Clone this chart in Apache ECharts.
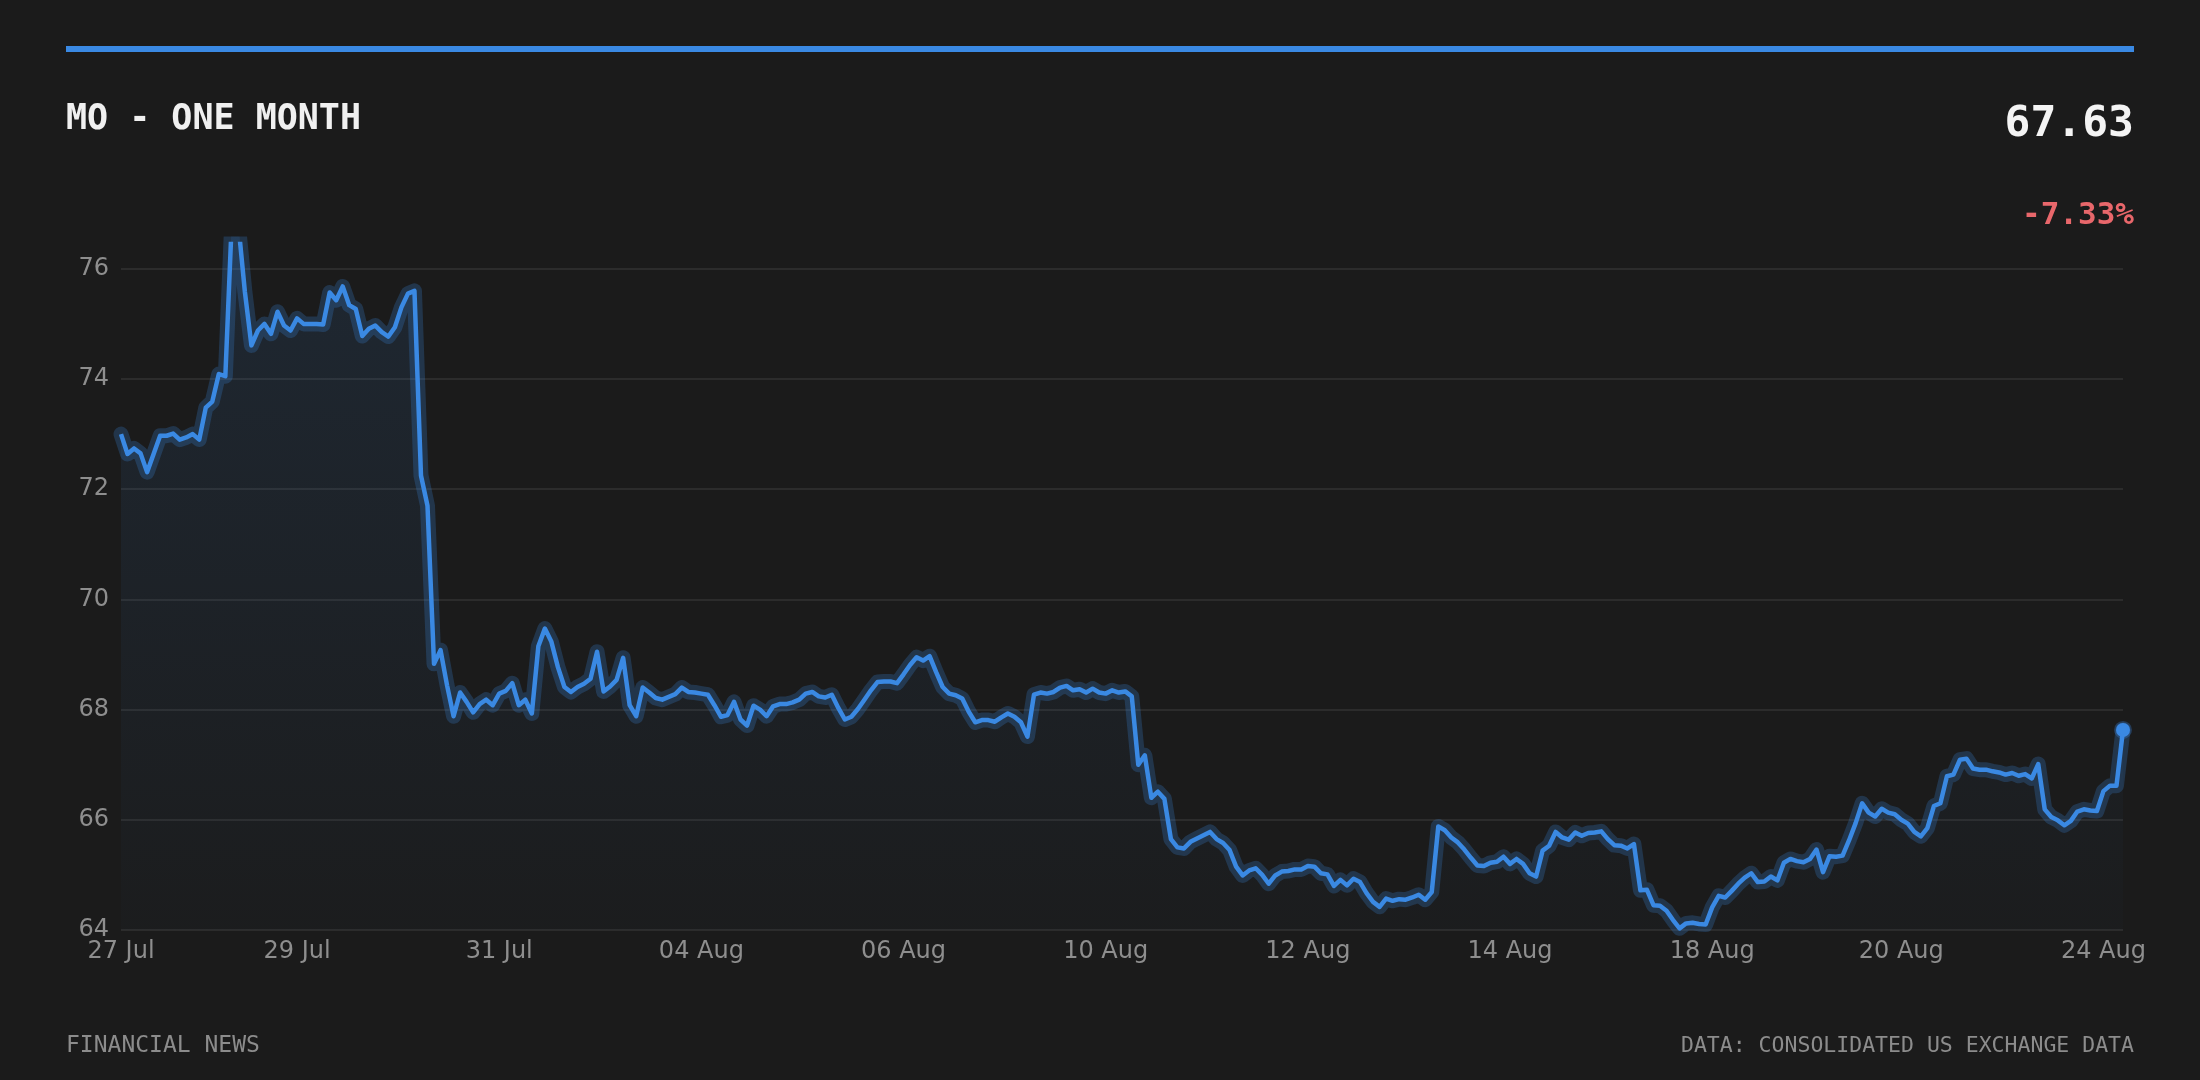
<!DOCTYPE html>
<html>
<head>
<meta charset="utf-8">
<title>MO - One Month</title>
<script src="https://cdn.jsdelivr.net/npm/echarts@6/dist/echarts.min.js"></script>
<style>
  html, body { margin: 0; padding: 0; background: #1b1b1b; }
  #chart { width: 2200px; height: 1080px; }
</style>
</head>
<body>
<div id="chart"></div>
<script>
// trading days shown on the axis and how many intraday bars each one has
const days = ['27 Jul','28 Jul','29 Jul','30 Jul','31 Jul','03 Aug','04 Aug','05 Aug','06 Aug','07 Aug',
              '10 Aug','11 Aug','12 Aug','13 Aug','14 Aug','17 Aug','18 Aug','19 Aug','20 Aug','21 Aug','24 Aug'];
const barsPerDay = [13,14,16,15,16,15,16,15,16,15,16,15,16,15,16,15,15,14,16,15,4];

// intraday prices, one array per week
const week1 = [73.00,72.64,72.74,72.65,72.31,72.64,72.97,72.97,73.01,72.90,72.94,73.00,72.90,73.48,73.59,74.09,
  74.05,76.90,76.80,75.58,74.61,74.88,75.00,74.82,75.22,74.97,74.88,75.10,
  75.00,75.00,75.00,74.99,75.57,75.43,75.68,75.34,75.27,74.78,74.91,74.97,74.85,74.77,74.94,75.30,75.55,
  75.60,72.25,71.70,68.83,69.08,68.44,67.88,68.31,68.14,67.95,68.10,68.18,68.08,68.29,68.34,68.48,68.08,68.18,67.93,
  69.15,69.47,69.23,68.77,68.41,68.32,68.41,68.47,68.56,69.05];
const week2 = [68.33,68.42,68.54,68.94,68.08,67.88,68.40,68.31,68.21,68.18,68.23,68.28,68.40,68.32,68.31,
  68.29,68.27,68.08,67.87,67.90,68.14,67.82,67.71,68.07,68.00,67.88,68.06,68.10,68.10,68.13,68.18,
  68.29,68.32,68.24,68.22,68.27,68.03,67.82,67.87,68.01,68.18,68.35,68.50,68.51,68.51,68.48,
  68.64,68.81,68.95,68.89,68.97,68.68,68.41,68.29,68.26,68.20,67.96,67.77,67.81,67.81,67.78,67.86,
  67.93,67.87,67.77,67.51,68.27,68.31,68.29,68.32,68.40,68.43,68.35,68.37,68.31,68.38,68.31];
const week3 = [68.29,68.35,68.31,68.33,68.24,67.00,67.17,66.40,66.51,66.38,65.65,65.50,65.48,65.60,65.66,65.72,
  65.78,65.65,65.58,65.45,65.15,64.99,65.08,65.12,65.00,64.84,64.99,65.06,65.07,65.10,65.10,
  65.16,65.15,65.03,65.01,64.80,64.91,64.81,64.93,64.87,64.67,64.51,64.42,64.57,64.53,64.56,
  64.55,64.59,64.64,64.55,64.69,65.88,65.81,65.68,65.59,65.46,65.31,65.17,65.16,65.22,65.24,65.33,
  65.20,65.29,65.20,65.03,64.97,65.44,65.53,65.78,65.68,65.64,65.77,65.71,65.76,65.77,65.79,65.65];
const week4 = [65.54,65.53,65.48,65.56,64.72,64.73,64.45,64.44,64.35,64.18,64.03,64.12,64.13,64.11,64.10,
  64.41,64.62,64.59,64.71,64.84,64.95,65.03,64.87,64.88,64.97,64.90,65.22,65.29,65.25,65.23,
  65.29,65.46,65.05,65.34,65.33,65.35,65.63,65.94,66.30,66.13,66.06,66.20,66.13,66.10,
  66.00,65.93,65.78,65.70,65.85,66.25,66.30,66.79,66.82,67.09,67.11,66.93,66.91,66.91,66.88,66.86,
  66.82,66.85,66.80,66.83,66.75,67.01,66.19,66.05,65.99,65.90,65.98,66.15,66.19,66.17,66.16];
const week5 = [66.52,66.62,66.62,67.63];

const yTicks = [64, 66, 68, 70, 72, 74, 76];

const prices = [].concat(week1, week2, week3, week4, week5);

// one category per bar, label only on the first bar of every other day
const categories = [];
const labelIdx = new Set();
days.forEach((d, di) => {
  for (let k = 0; k < barsPerDay[di]; k++) {
    if (k === 0 && di % 2 === 0) labelIdx.add(categories.length);
    categories.push(d + '|' + k);
  }
});

const BLUE = '#3a89e3';
const last = prices.length - 1;

const chart = echarts.init(document.getElementById('chart'));
chart.setOption({
  backgroundColor: '#1b1b1b',
  animation: false,
  grid: { left: 121, right: 77, top: 244, bottom: 150 },
  xAxis: {
    type: 'category',
    data: categories,
    boundaryGap: false,
    axisLine: { show: false },
    axisTick: { show: false },
    splitLine: { show: false },
    axisLabel: {
      interval: (i) => labelIdx.has(i),
      formatter: (v) => v.split('|')[0],
      color: '#8e8e8e',
      fontFamily: 'DejaVu Sans',
      fontSize: 24,
      margin: 10
    }
  },
  yAxis: {
    type: 'value',
    min: yTicks[0],
    max: 76.45,
    interval: 2,
    axisLine: { show: false },
    axisTick: { show: false },
    axisLabel: {
      color: '#8e8e8e',
      fontFamily: 'DejaVu Sans',
      fontSize: 24,
      margin: 12,
      showMaxLabel: false
    },
    splitLine: { showMaxLine: false, lineStyle: { color: '#333333', width: 1.5 } }
  },
  series: [
    {
      // soft halo + area under the price line
      type: 'line',
      data: prices,
      symbol: 'none',
      silent: true,
      z: 2,
      lineStyle: { color: 'rgba(58,137,227,0.24)', width: 15, join: 'round', cap: 'round' },
      areaStyle: {
        color: new echarts.graphic.LinearGradient(0, 0, 0, 1, [
          { offset: 0, color: 'rgba(58,137,227,0.17)' },
          { offset: 1, color: 'rgba(58,137,227,0.02)' }
        ])
      }
    },
    {
      type: 'line',
      data: prices,
      symbol: 'none',
      z: 3,
      lineStyle: { color: BLUE, width: 4.5, join: 'round' },
      markPoint: {
        symbol: 'circle',
        symbolSize: 14,
        itemStyle: { color: BLUE, borderColor: 'rgba(58,137,227,0.3)', borderWidth: 4 },
        label: { show: false },
        data: [{ coord: [last, prices[last]] }]
      }
    }
  ],
  graphic: [
    { type: 'rect', shape: { x: 66, y: 46, width: 2068, height: 6 }, style: { fill: BLUE } },
    { type: 'text', style: { text: 'MO - ONE MONTH', x: 66, y: 120, fill: '#f0f0f0',
        font: 'bold 35px "DejaVu Sans Mono"', align: 'left', verticalAlign: 'middle',
        textAlign: 'left', textVerticalAlign: 'middle' } },
    { type: 'text', style: { text: prices[last].toFixed(2), x: 2134, y: 125, fill: '#f4f4f4',
        font: 'bold 43px "DejaVu Sans Mono"', align: 'right', verticalAlign: 'middle',
        textAlign: 'right', textVerticalAlign: 'middle' } },
    { type: 'text', style: { text: '-7.33%', x: 2134, y: 216, fill: '#e8676b',
        font: 'bold 31px "DejaVu Sans Mono"', align: 'right', verticalAlign: 'middle',
        textAlign: 'right', textVerticalAlign: 'middle' } },
    { type: 'text', style: { text: 'FINANCIAL NEWS', x: 66, y: 1046, fill: '#8c8c8c',
        font: '23px "DejaVu Sans Mono"', align: 'left', verticalAlign: 'middle',
        textAlign: 'left', textVerticalAlign: 'middle' } },
    { type: 'text', style: { text: 'DATA: CONSOLIDATED US EXCHANGE DATA', x: 2134, y: 1046, fill: '#8c8c8c',
        font: '21.5px "DejaVu Sans Mono"', align: 'right', verticalAlign: 'middle',
        textAlign: 'right', textVerticalAlign: 'middle' } }
  ]
});
</script>
</body>
</html>
